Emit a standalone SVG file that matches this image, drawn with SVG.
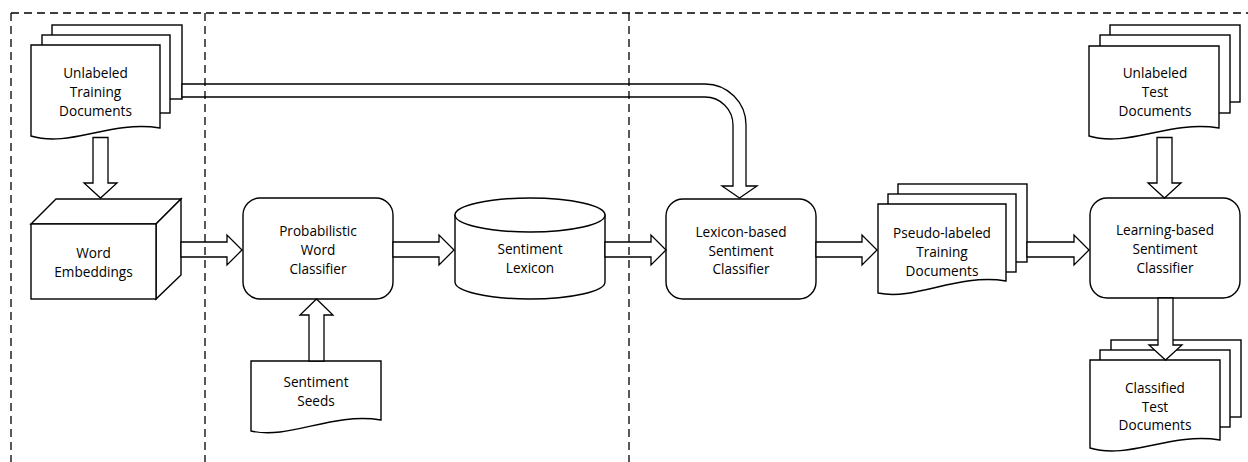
<svg xmlns="http://www.w3.org/2000/svg" width="1248" height="462" viewBox="0 0 1248 462">
<style>
.s{fill:#fff;stroke:#000;stroke-width:1.4;stroke-linejoin:miter}
.a{fill:#fff;stroke:#000;stroke-width:1.3;stroke-linejoin:miter}
.d{fill:none;stroke:#000;stroke-width:1.3;stroke-dasharray:8 5}
text{font-family:"Open Sans","Noto Sans","Liberation Sans",sans-serif;font-size:13.6px;fill:#000;text-anchor:middle}
</style>
<rect width="1248" height="462" fill="#fff"/>
<g id="unlabeled-training-docs">
<rect class="s" x="52" y="25" width="130" height="74"/>
<rect class="s" x="42" y="35" width="128" height="78"/>
<path class="s" d="M31,45 H160 V128 C110,120 70,148 31,136 Z"/>
<text x="95.5" y="78">Unlabeled</text><text x="95.5" y="97">Training</text><text x="95.5" y="116">Documents</text>
</g>
<g id="word-embeddings">
<path class="s" d="M31,224 L56,199 H181 L156,224 Z"/>
<path class="s" d="M156,224 L181,199 V275 L156,299 Z"/>
<rect class="s" x="31" y="224" width="125" height="75"/>
<text x="93.5" y="258">Word</text><text x="93.5" y="277">Embeddings</text>
</g>
<g id="prob-word-classifier">
<rect class="s" x="243" y="198" width="150" height="101" rx="17"/>
<text x="318" y="236">Probabilistic</text><text x="318" y="255">Word</text><text x="318" y="274">Classifier</text>
</g>
<g id="sentiment-seeds">
<path class="s" d="M251,361 H381 V420 C331,412 290,440 251,431 Z"/>
<text x="316" y="387">Sentiment</text><text x="316" y="406">Seeds</text>
</g>
<g id="sentiment-lexicon">
<path class="s" d="M455,215 V282 A75,17 0 0 0 605,282 V215 Z"/>
<ellipse class="s" cx="530" cy="215" rx="75" ry="17"/>
<text x="530" y="254">Sentiment</text><text x="530" y="273">Lexicon</text>
</g>
<g id="lexicon-classifier">
<rect class="s" x="666" y="199" width="150" height="100" rx="17"/>
<text x="741" y="237">Lexicon-based</text><text x="741" y="256">Sentiment</text><text x="741" y="274">Classifier</text>
</g>
<g id="pseudo-labeled-docs">
<rect class="s" x="898" y="184" width="129" height="78"/>
<rect class="s" x="888" y="194" width="128" height="78"/>
<path class="s" d="M878,204 H1006 V281 C957,273 916,301 878,293 Z"/>
<text x="942" y="238">Pseudo-labeled</text><text x="942" y="257">Training</text><text x="942" y="276">Documents</text>
</g>
<g id="unlabeled-test-docs">
<rect class="s" x="1110" y="25" width="130" height="77"/>
<rect class="s" x="1100" y="35" width="130" height="78"/>
<path class="s" d="M1089,46 H1219 V128 C1169,120 1128,148 1089,136 Z"/>
<text x="1155" y="78">Unlabeled</text><text x="1155" y="97">Test</text><text x="1155" y="116">Documents</text>
</g>
<g id="learning-classifier">
<rect class="s" x="1090" y="198" width="150" height="100" rx="17"/>
<text x="1165" y="235">Learning-based</text><text x="1165" y="254">Sentiment</text><text x="1165" y="273">Classifier</text>
</g>
<g id="classified-test-docs">
<rect class="s" x="1111" y="340" width="130" height="77"/>
<rect class="s" x="1100" y="350" width="130" height="77"/>
<path class="s" d="M1090,360 H1220 V440 C1170,432 1129,460 1090,448 Z"/>
<text x="1155" y="393">Classified</text><text x="1155" y="412">Test</text><text x="1155" y="430">Documents</text>
</g>
<g id="connectors">
<polygon class="a" points="93,137.5 108,137.5 108,183 117,183 100.5,198 84,183 93,183"/>
<polygon class="a" points="181,242 227,242 227,235 242,250 227,265 227,257 181,257"/>
<polygon class="a" points="309,361 309,315 300,315 316.5,299 333,315 324,315 324,361"/>
<polygon class="a" points="393,242 439,242 439,235 454,250 439,265 439,257 393,257"/>
<polygon class="a" points="605,242 651,242 651,235 666,250 651,265 651,257 605,257"/>
<polygon class="a" points="816,242 862,242 862,235 877,250 862,265 862,257 816,257"/>
<polygon class="a" points="1027,242 1074,242 1074,235 1089,250 1074,265 1074,257 1027,257"/>
<polygon class="a" points="1157,137.5 1172,137.5 1172,183 1181,183 1164.5,198 1148,183 1157,183"/>
<polygon class="a" points="1158,298 1173,298 1173,345 1182,345 1165.5,360 1149,345 1158,345"/>
<path class="a" d="M182,84 H705 A41,41 0 0 1 746,125 V186 H757 L739.5,198 L722,186 H733 V125 A28,28 0 0 0 705,97 H182 Z"/>
</g>
<g id="frame">
<line class="d" x1="11" y1="13" x2="1248" y2="13"/>
<line class="d" x1="11" y1="13" x2="11" y2="462"/>
<line class="d" x1="205" y1="13" x2="205" y2="462"/>
<line class="d" x1="629" y1="13" x2="629" y2="462"/>
</g>
</svg>
